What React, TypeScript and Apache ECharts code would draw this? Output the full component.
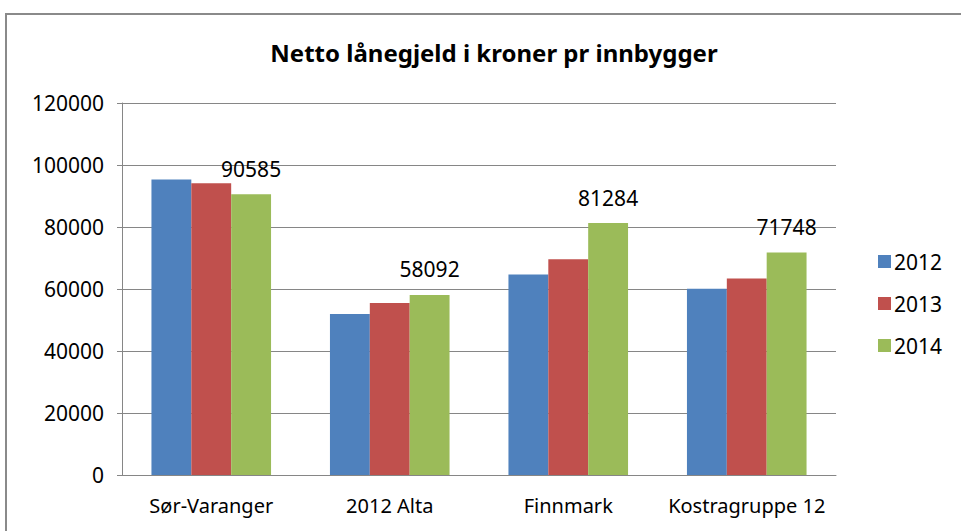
import React, { useEffect, useRef } from "react";
import * as echarts from "echarts";

const categories = ["Sør-Varanger", "2012 Alta", "Finnmark", "Kostragruppe 12"];
const seriesNames = ["2012", "2013", "2014"];
const values2012 = [95300, 51900, 64700, 60100];
const values2013 = [94100, 55500, 69600, 63400];
const values2014 = [90585, 58092, 81284, 71748];
const colors = ["#4F81BD", "#C0504D", "#9BBB59"];
const yTicks = { min: 0, max: 120000, interval: 20000 };

const FONT = "'Noto Sans', 'Open Sans', sans-serif";

export default function App() {
  const ref = useRef<HTMLDivElement>(null);
  useEffect(() => {
    document.body.style.margin = "0";
    const chart = echarts.init(ref.current!, null, { renderer: "svg" });
    const data = [values2012, values2013, values2014];
    chart.setOption({
      animation: false,
      backgroundColor: "#ffffff",
      textStyle: { fontFamily: FONT },
      title: {
        text: "Netto lånegjeld i kroner pr innbygger",
        left: 489,
        textAlign: "center",
        top: 35,
        textStyle: { fontFamily: FONT, fontSize: 24, fontWeight: "bold", color: "#000" },
      },
      graphic: [
        {
          type: "rect",
          shape: { x: 6, y: 14, width: 1000, height: 600 },
          style: { fill: "none", stroke: "#8a8a8a", lineWidth: 2 },
          silent: true,
          z: -1,
        },
      ],
      legend: {
        orient: "vertical",
        left: 873,
        top: 246,
        itemWidth: 13,
        itemHeight: 13,
        itemGap: 21,
        icon: "rect",
        textStyle: { fontFamily: FONT, fontSize: 21, color: "#000", padding: [0, 0, 0, -2] },
        data: seriesNames,
      },
      grid: { left: 122, right: 125, top: 103, bottom: 56, containLabel: false },
      xAxis: {
        type: "category",
        data: categories,
        axisLine: { lineStyle: { color: "#868686", width: 1 } },
        axisTick: { show: false },
        axisLabel: { fontFamily: FONT, fontSize: 20, color: "#000", margin: 20, interval: 0 },
      },
      yAxis: {
        type: "value",
        min: yTicks.min,
        max: yTicks.max,
        interval: yTicks.interval,
        axisLine: { show: true, lineStyle: { color: "#868686", width: 1 } },
        axisTick: { show: true, length: 5, lineStyle: { color: "#868686" } },
        splitLine: { lineStyle: { color: "#868686", width: 1 } },
        axisLabel: {
          fontFamily: FONT,
          fontSize: 21,
          color: "#000",
          margin: 18,
          formatter: (v: number) => String(v),
        },
      },
      series: seriesNames.map((name, i) => ({
        name,
        type: "bar",
        data: data[i],
        barGap: "0%",
        barCategoryGap: "33%",
        itemStyle: { color: colors[i] },
        label:
          i === 2
            ? {
                show: true,
                position: "top",
                distance: 15,
                fontFamily: FONT,
                fontSize: 21,
                color: "#000",
              }
            : { show: false },
      })),
    });
    return () => chart.dispose();
  }, []);
  return <div ref={ref} style={{ width: 961, height: 531 }} />;
}
